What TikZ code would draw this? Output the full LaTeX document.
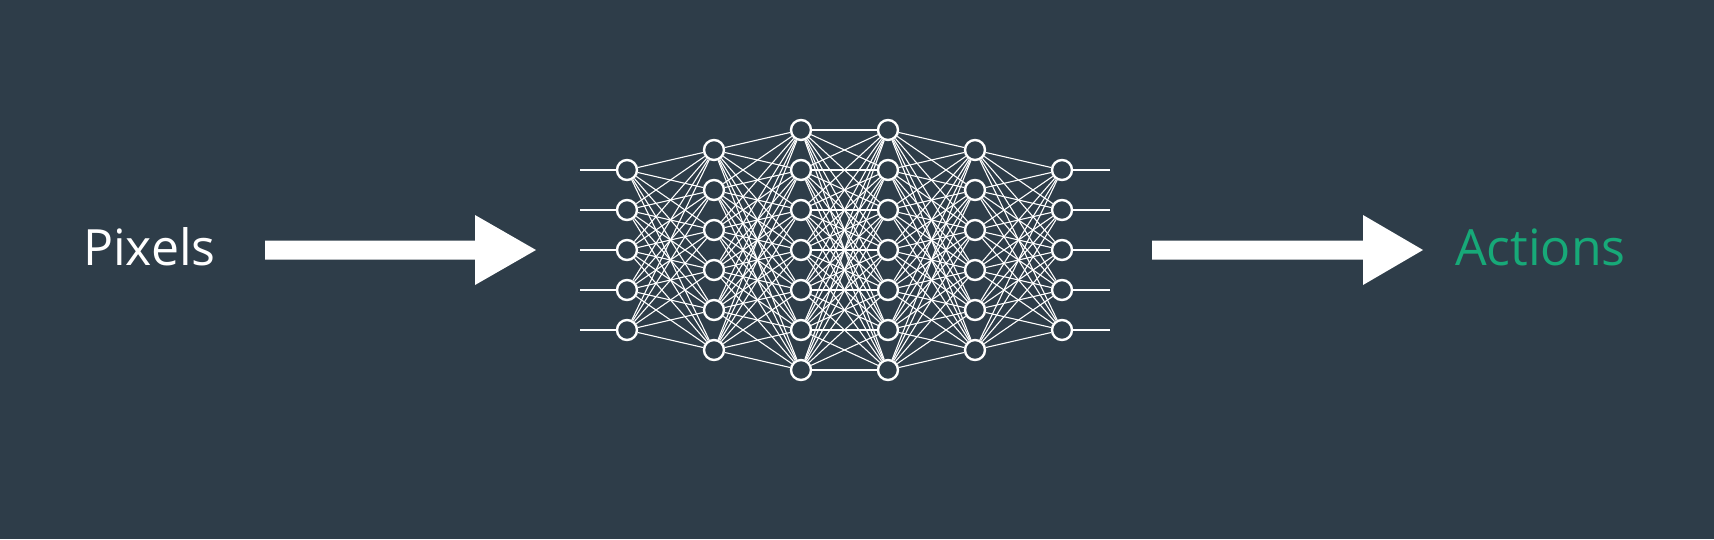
\documentclass[tikz,border=0pt]{standalone}
\usepackage{fontspec}
\setmainfont{Open Sans}
\definecolor{bg}{HTML}{2E3D49}
\definecolor{act}{HTML}{17A978}
\begin{document}
\begin{tikzpicture}[x=1pt,y=-1pt,
  neuron/.style={circle,draw=white,line width=2.4pt,fill=bg,minimum size=20pt,inner sep=0pt},
  wire/.style={white,line width=1.1pt},
  bigarrow/.style={fill=white},
  label/.style={anchor=base west,inner sep=0pt,font=\fontsize{50}{58}\selectfont}]
\fill[bg] (0,0) rectangle (1714,539);
\useasboundingbox (0,0) rectangle (1714,539);
\foreach \l/\x/\n in {1/627/5,2/714/6,3/801/7,4/888/7,5/975/6,6/1062/5} {
  \foreach \j in {1,...,\n} {
    \node[neuron] (L\l-\j) at (\x,{250+(\j-(\n+1)/2)*40}) {};
  }
}
\foreach \a/\na/\b/\nb in {1/5/2/6,2/6/3/7,3/7/4/7,4/7/5/6,5/6/6/5} {
  \foreach \i in {1,...,\na} {
    \foreach \j in {1,...,\nb} {
      \draw[wire] (L\a-\i) -- (L\b-\j);
    }
  }
}
\foreach \j in {1,...,5} {
  \coordinate (in\j) at (580,{250+(\j-3)*40});
  \coordinate (out\j) at (1110,{250+(\j-3)*40});
  \draw[wire] (in\j) -- (L1-\j);
  \draw[wire] (L6-\j) -- (out\j);
}
\fill[bigarrow] (265,240.5) -- (475,240.5) -- (475,215) -- (536,250) -- (475,285) -- (475,259.5) -- (265,259.5) -- cycle;
\fill[bigarrow] (1152,240.5) -- (1363,240.5) -- (1363,215) -- (1423,250) -- (1363,285) -- (1363,259.5) -- (1152,259.5) -- cycle;
\node[label,text=white] (pix) at (83,265) {Pixels};
\node[label,text=act] (actn) at (1455,265) {Actions};
\end{tikzpicture}
\end{document}
